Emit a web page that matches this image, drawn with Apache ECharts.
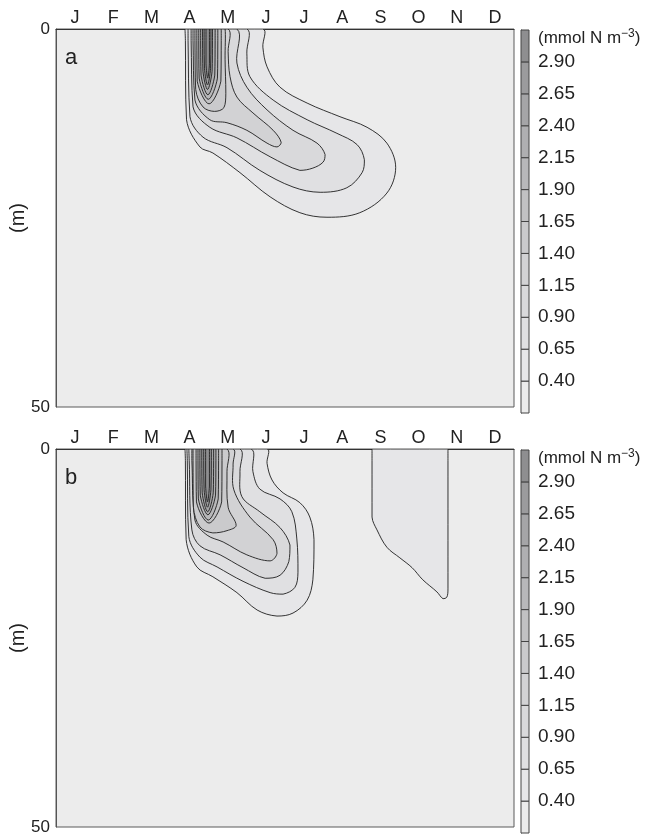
<!DOCTYPE html>
<html>
<head>
<meta charset="utf-8">
<script src="https://cdn.jsdelivr.net/npm/echarts@6/dist/echarts.min.js"></script>
<style>
html, body { margin: 0; padding: 0; background: #fff; }
#chart { width: 649px; height: 835px; }
</style>
</head>
<body>
<div id="chart"></div>
<script>
const months = ['J', 'F', 'M', 'A', 'M', 'J', 'J', 'A', 'S', 'O', 'N', 'D']
const depthTicks = [0, 50]
// colour bar: band edges (mmol N m-3), labelled ticks, one grey per band
const barEdges = [0.15, 0.40, 0.65, 0.90, 1.15, 1.40, 1.65, 1.90, 2.15, 2.40, 2.65, 2.90, 3.15]
const tickValues = [0.40, 0.65, 0.90, 1.15, 1.40, 1.65, 1.90, 2.15, 2.40, 2.65, 2.90]
const bandColors = ['#ececec', '#e6e6e8', '#e0e0e2', '#d9d9db', '#d2d2d4', '#cacacc',
  '#c1c1c3', '#b8b8ba', '#afafb1', '#a5a5a7', '#9b9b9d', '#8e8e90']

// panel a contours, [month, depth m]
const a040 = [[3.38, 0], [3.39, 1.5], [3.42, 12.0], [3.77, 15.6], [4.11, 16.4], [4.82, 19.0], [5.61, 22.2], [6.39, 24.3], [7.10, 24.9], [7.96, 24.3], [8.67, 21.7], [8.90, 18.3], [8.67, 15.1], [8.15, 13.0], [7.44, 11.6], [6.58, 9.8], [5.87, 7.7], [5.53, 5.0], [5.42, 2.4], [5.42, 0]]
const a065 = [[3.46, 0], [3.46, 1.5], [3.51, 11.6], [3.85, 14.3], [4.48, 15.7], [5.34, 18.7], [6.21, 20.9], [6.92, 21.6], [7.62, 21.0], [8.02, 19.0], [8.08, 17.3], [7.89, 15.3], [7.36, 13.8], [6.58, 12.0], [5.69, 9.4], [5.08, 6.3], [5.00, 3.2], [5.00, 0]]
const a090 = [[3.54, 0], [3.54, 1.5], [3.59, 10.3], [4.03, 13.0], [4.74, 14.4], [5.61, 16.9], [6.39, 18.7], [6.73, 18.4], [7.00, 17.6], [7.05, 16.6], [6.84, 15.1], [6.21, 13.4], [5.53, 10.7], [5.00, 7.7], [4.74, 4.5], [4.74, 0]]
const a115 = [[3.59, 0], [3.59, 1.5], [3.64, 9.4], [4.03, 12.0], [4.48, 12.4], [5.00, 13.4], [5.53, 15.1], [5.79, 15.6], [5.90, 15.0], [5.69, 13.4], [5.16, 11.1], [4.74, 9.0], [4.56, 6.3], [4.51, 3.0], [4.51, 0]]
const a140 = [[3.64, 0], [3.64, 1.5], [3.66, 8.0], [3.85, 10.3], [4.15, 10.9], [4.40, 10.4], [4.45, 8.5], [4.43, 4.0], [4.43, 0]]
const a165 = [[3.69, 0], [3.69, 1.5], [3.70, 6.9], [4.01, 9.9], [4.32, 6.9], [4.33, 1.5], [4.33, 0]]
const a190 = [[3.74, 0], [3.74, 1.5], [3.75, 6.5], [3.99, 9.3], [4.23, 6.5], [4.24, 1.5], [4.24, 0]]
const a215 = [[3.79, 0], [3.79, 1.5], [3.80, 6.1], [3.98, 8.7], [4.16, 6.1], [4.17, 1.5], [4.17, 0]]
const a240 = [[3.84, 0], [3.84, 1.5], [3.85, 5.6], [3.97, 8.0], [4.09, 5.6], [4.10, 1.5], [4.10, 0]]
const a265 = [[3.88, 0], [3.88, 1.5], [3.89, 5.2], [3.97, 7.4], [4.05, 5.2], [4.06, 1.5], [4.06, 0]]
const a290 = [[3.93, 0], [3.93, 1.5], [3.93, 4.6], [3.975, 6.5], [4.02, 4.6], [4.02, 1.5], [4.02, 0]]

// panel b contours
const b040 = [[3.38, 0], [3.39, 1.5], [3.41, 12.0], [3.69, 15.6], [4.11, 16.9], [4.74, 19.0], [5.27, 21.3], [5.79, 22.1], [6.21, 21.7], [6.58, 20.0], [6.73, 17.3], [6.76, 12.0], [6.65, 9.0], [6.39, 7.1], [5.95, 5.8], [5.66, 4.1], [5.53, 1.9], [5.53, 0]]
const b065 = [[3.43, 0], [3.44, 1.5], [3.48, 11.6], [3.77, 14.3], [4.22, 15.6], [4.90, 17.5], [5.61, 19.0], [5.95, 19.2], [6.26, 18.3], [6.34, 16.3], [6.31, 11.9], [6.18, 8.3], [5.87, 6.6], [5.34, 5.3], [5.16, 3.0], [5.11, 0]]
const b090 = [[3.48, 0], [3.49, 1.5], [3.56, 10.7], [3.77, 12.8], [4.30, 14.0], [4.90, 15.7], [5.48, 17.1], [5.87, 16.7], [6.10, 14.9], [6.13, 12.7], [5.87, 10.4], [5.34, 8.3], [4.87, 6.3], [4.82, 3.0], [4.82, 0]]
const b115 = [[3.56, 0], [3.56, 1.5], [3.64, 9.4], [3.96, 11.4], [4.38, 12.3], [5.00, 14.0], [5.61, 14.8], [5.79, 13.8], [5.69, 12.0], [5.08, 9.0], [4.66, 5.4], [4.64, 2.0], [4.64, 0]]
const b140 = [[3.59, 0], [3.59, 1.5], [3.60, 7.7], [3.77, 10.3], [4.11, 11.1], [4.48, 10.8], [4.72, 10.1], [4.51, 7.7], [4.48, 3.0], [4.48, 0]]
const b165 = [[3.67, 0], [3.67, 1.5], [3.68, 7.0], [4.01, 9.8], [4.34, 7.0], [4.35, 1.5], [4.35, 0]]
const b190 = [[3.72, 0], [3.72, 1.5], [3.73, 6.6], [3.99, 9.4], [4.25, 6.6], [4.26, 1.5], [4.26, 0]]
const b215 = [[3.77, 0], [3.77, 1.5], [3.78, 6.1], [3.98, 8.7], [4.18, 6.1], [4.19, 1.5], [4.19, 0]]
const b240 = [[3.82, 0], [3.82, 1.5], [3.83, 5.8], [3.975, 8.3], [4.12, 5.8], [4.13, 1.5], [4.13, 0]]
const b265 = [[3.87, 0], [3.87, 1.5], [3.88, 5.4], [3.97, 7.7], [4.06, 5.4], [4.07, 1.5], [4.07, 0]]
const b290 = [[3.92, 0], [3.92, 1.5], [3.92, 4.9], [3.97, 7.0], [4.02, 4.9], [4.02, 1.5], [4.02, 0]]
// autumn patch in panel b (0.40 level)
const bAutumn = [[8.28, 0], [8.28, 1.5], [8.28, 9.0], [8.41, 10.7], [8.67, 13.0], [9.01, 14.4], [9.33, 15.7], [9.61, 17.3], [9.98, 18.9], [10.14, 19.8], [10.24, 19.6], [10.27, 18.5], [10.27, 1.5], [10.27, 0]]

const contoursA = [
  { band: 1, pts: a040 }, { band: 2, pts: a065 }, { band: 3, pts: a090 }, { band: 4, pts: a115 },
  { band: 5, pts: a140 }, { band: 6, pts: a165 }, { band: 7, pts: a190 }, { band: 8, pts: a215 },
  { band: 9, pts: a240 }, { band: 10, pts: a265 }, { band: 11, pts: a290 },
]
const contoursB = [
  { band: 1, pts: b040 }, { band: 1, pts: bAutumn }, { band: 2, pts: b065 }, { band: 3, pts: b090 },
  { band: 4, pts: b115 }, { band: 5, pts: b140 }, { band: 6, pts: b165 }, { band: 7, pts: b190 },
  { band: 8, pts: b215 }, { band: 9, pts: b240 }, { band: 10, pts: b265 }, { band: 11, pts: b290 },
]

const font = 'Liberation Sans'
const txt = '#222'

function contourRenderer(list) {
  return function (params, api) {
    const c = list[params.dataIndex]
    const pts = c.pts.map(p => api.coord(p))
    return {
      type: 'polygon',
      shape: { points: pts, smooth: 0.35, smoothConstraint: [pts[0], pts[0]] },
      style: { fill: bandColors[c.band], stroke: '#1e1e1e', lineWidth: 0.9 },
    }
  }
}

function barRenderer(params, api) {
  const i = params.dataIndex
  const p0 = api.coord([0, barEdges[i]])
  const p1 = api.coord([1, barEdges[i + 1]])
  return {
    type: 'rect',
    shape: { x: p0[0], y: p1[1], width: p1[0] - p0[0], height: p0[1] - p1[1] },
    style: { fill: bandColors[i], stroke: '#444', lineWidth: 1 },
  }
}

function plotAxes(grid) {
  return [
    {
      type: 'category', gridIndex: grid, position: 'top', data: months,
      axisLine: { lineStyle: { color: '#333', width: 1 } },
      axisTick: { length: 7, lineStyle: { color: '#444' } },
      axisLabel: { fontSize: 18, color: txt, fontFamily: font, margin: 2 },
    },
    { type: 'value', gridIndex: grid, min: 0, max: 12, show: false },
  ]
}

function depthAxis(grid) {
  return {
    type: 'value', gridIndex: grid, inverse: true, min: depthTicks[0], max: depthTicks[1], interval: 50,
    name: '(m)', nameLocation: 'middle', nameGap: 28, nameRotate: 90, nameMoveOverlap: false,
    nameTextStyle: { fontSize: 20, color: txt, fontFamily: font },
    axisLine: { show: true, lineStyle: { color: '#555' } },
    axisTick: { show: false },
    splitLine: { show: false },
    axisLabel: { fontSize: 17, color: txt, fontFamily: font, margin: 6 },
  }
}

function barAxis(grid) {
  return {
    type: 'value', gridIndex: grid, position: 'right', min: barEdges[0], max: barEdges[barEdges.length - 1],
    axisLine: { show: true, lineStyle: { color: '#444' } },
    axisTick: { show: true, length: 4, customValues: tickValues, lineStyle: { color: '#444' } },
    axisLabel: {
      customValues: tickValues, fontSize: 19, color: txt, fontFamily: font, margin: 9,
      formatter: v => v.toFixed(2),
    },
    splitLine: { show: false },
  }
}

function unitTitle(top) {
  return {
    left: 538, top: top, padding: 0, text: '(mmol N m{sup|\u22123})',
    textStyle: {
      fontSize: 17, fontWeight: 'normal', color: txt, fontFamily: font,
      rich: { sup: { fontSize: 12, fontFamily: font, color: txt, padding: [0, 0, 9, 0] } },
    },
  }
}

function letterTitle(text, top) {
  return { left: 65, top: top, padding: 0, text: text, textStyle: { fontSize: 22, fontWeight: 'normal', color: txt, fontFamily: font } }
}

const gridStyle = {
  show: true, backgroundColor: '#ececec', borderColor: '#5a5a5a', borderWidth: 1,
  containLabel: false, outerBoundsMode: 'none',
}

const option = {
  backgroundColor: '#fff',
  animation: false,
  title: [unitTitle(28), unitTitle(448), letterTitle('a', 47), letterTitle('b', 467)],
  grid: [
    Object.assign({ left: 56, top: 29, width: 458, height: 378 }, gridStyle),
    Object.assign({ left: 56, top: 449, width: 458, height: 378 }, gridStyle),
    { left: 521, top: 30, width: 8, height: 383, outerBoundsMode: 'none' },
    { left: 521, top: 450, width: 8, height: 383, outerBoundsMode: 'none' },
  ],
  xAxis: [
    ...plotAxes(0),
    ...plotAxes(1),
    { type: 'value', gridIndex: 2, min: 0, max: 1, show: false },
    { type: 'value', gridIndex: 3, min: 0, max: 1, show: false },
  ],
  yAxis: [depthAxis(0), depthAxis(1), barAxis(2), barAxis(3)],
  series: [
    {
      type: 'custom', xAxisIndex: 1, yAxisIndex: 0, clip: true,
      renderItem: contourRenderer(contoursA),
      data: contoursA.map(c => c.pts[0]),
    },
    {
      type: 'custom', xAxisIndex: 3, yAxisIndex: 1, clip: true,
      renderItem: contourRenderer(contoursB),
      data: contoursB.map(c => c.pts[0]),
    },
    {
      type: 'custom', xAxisIndex: 4, yAxisIndex: 2,
      renderItem: barRenderer,
      data: bandColors.map((c, i) => [0, barEdges[i]]),
    },
    {
      type: 'custom', xAxisIndex: 5, yAxisIndex: 3,
      renderItem: barRenderer,
      data: bandColors.map((c, i) => [0, barEdges[i]]),
    },
  ],
}

const myChart = echarts.init(document.getElementById('chart'))
myChart.setOption(option)
</script>
</body>
</html>
